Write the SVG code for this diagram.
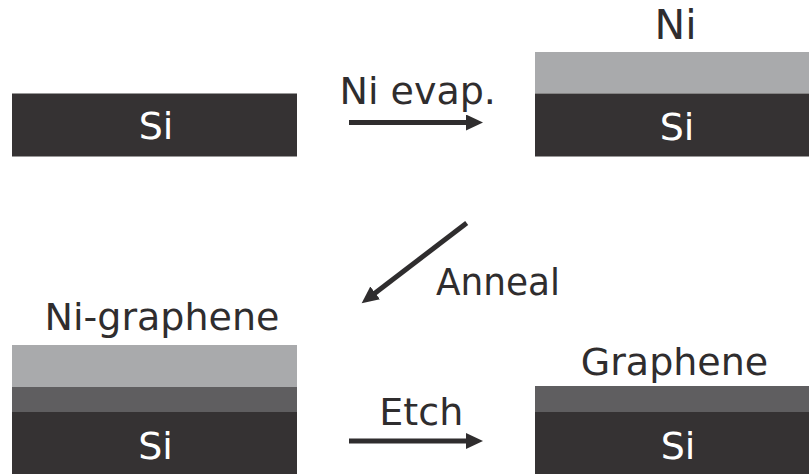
<svg xmlns="http://www.w3.org/2000/svg" width="809" height="474" viewBox="0 0 809 474">
  <style>
    .si { fill: #353233; }
    .ni { fill: #a9aaac; }
    .gr { fill: #5f5e60; }
    .lbl { font-family: "DejaVu Sans", Verdana, sans-serif; font-size: 38px; fill: #2f2d2e; }
    .sub { font-family: "DejaVu Sans", Verdana, sans-serif; font-size: 38px; fill: #ffffff; text-anchor: middle; }
    .arrow { stroke: #2f2d2e; stroke-width: 5; fill: none; marker-end: url(#head); }
  </style>
  <defs>
    <marker id="head" markerUnits="userSpaceOnUse" markerWidth="18" markerHeight="18" refX="7" refY="8" orient="auto">
      <path d="M0,0 L17,8 L0,16 z" fill="#2f2d2e"/>
    </marker>
  </defs>
  <rect width="809" height="474" fill="#ffffff"/>

  <!-- bare silicon substrate -->
  <g id="substrate">
    <rect class="si" x="12" y="93.5" width="285" height="63"/>
    <text class="sub" x="156" y="139">Si</text>
  </g>

  <!-- nickel evaporated on silicon -->
  <g id="ni-on-si">
    <text class="lbl" x="675.5" y="38.5" text-anchor="middle" style="font-size:41px">Ni</text>
    <rect class="ni" x="535" y="52" width="274" height="41.5"/>
    <rect class="si" x="535" y="93.5" width="274" height="63"/>
    <text class="sub" x="677" y="140">Si</text>
  </g>

  <!-- annealed stack: nickel over graphene over silicon -->
  <g id="ni-graphene">
    <text class="lbl" x="162" y="329.5" text-anchor="middle">Ni-graphene</text>
    <rect class="ni" x="12" y="345" width="285" height="42"/>
    <rect class="gr" x="12" y="387" width="285" height="25"/>
    <rect class="si" x="12" y="412" width="285" height="62"/>
    <text class="sub" x="155.5" y="458.5">Si</text>
  </g>

  <!-- after etching: graphene on silicon -->
  <g id="graphene">
    <text class="lbl" x="674.5" y="374.5" text-anchor="middle">Graphene</text>
    <rect class="gr" x="535" y="386" width="274" height="26"/>
    <rect class="si" x="535" y="412" width="274" height="62"/>
    <text class="sub" x="678" y="458.5">Si</text>
  </g>

  <!-- process steps -->
  <g id="connectors">
    <line class="arrow" x1="349" y1="122.5" x2="473" y2="122.5"/>
    <text class="lbl" x="339.5" y="104">Ni evap.</text>

    <line class="arrow" x1="466.7" y1="223" x2="369.6" y2="297.2"/>
    <text class="lbl" x="436" y="295" textLength="124" lengthAdjust="spacingAndGlyphs">Anneal</text>

    <line class="arrow" x1="349" y1="441" x2="473" y2="441"/>
    <text class="lbl" x="421.3" y="425" text-anchor="middle">Etch</text>
  </g>
</svg>
